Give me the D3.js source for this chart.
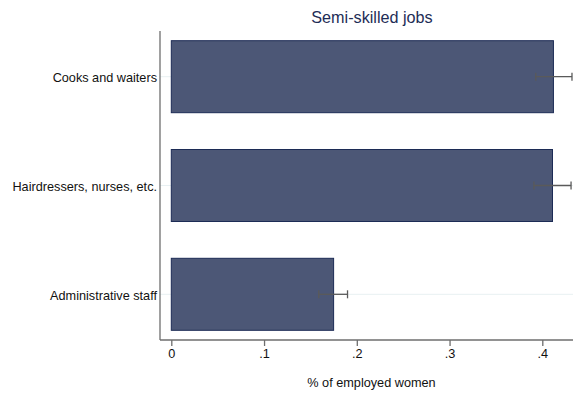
<!DOCTYPE html>
<html>
<head>
<meta charset="utf-8">
<script src="https://cdn.jsdelivr.net/npm/d3@7"></script>
<style>
  html, body { margin: 0; padding: 0; background: #fff; }
  svg { display: block; font-family: Arial, "Liberation Sans", sans-serif; }
</style>
</head>
<body>
<svg id="chart" width="573" height="394"></svg>
<script>
// Share of employed women by semi-skilled occupation, with confidence intervals
const categories = ["Cooks and waiters", "Hairdressers, nurses, etc.", "Administrative staff"];
const shares = [0.412, 0.411, 0.175];
const ciLow = [0.393, 0.391, 0.159];
const ciHigh = [0.432, 0.431, 0.190];
const xTicks = [0, 0.1, 0.2, 0.3, 0.4];
const xTickLabels = ["0", ".1", ".2", ".3", ".4"];

const W = 573, H = 394;
const plot = { left: 160, right: 573, top: 31, bottom: 340 };
const font = "Arial, 'Liberation Sans', sans-serif";
const labelSize = 12.7;

const svg = d3.select("#chart");

const x = d3.scaleLinear().domain([0, 0.4]).range([171.3, 542.3]);
const y = d3.scalePoint().domain(categories).range([plot.top, plot.bottom]).padding(0.42);
const barH = 72;

svg.append("defs").append("clipPath").attr("id", "plotclip")
  .append("rect").attr("x", plot.left).attr("y", 0).attr("width", W - plot.left).attr("height", H);

// faint horizontal gridlines at category positions
svg.append("g").selectAll("line").data(categories).join("line")
  .attr("x1", plot.left).attr("x2", plot.right)
  .attr("y1", d => y(d)).attr("y2", d => y(d))
  .attr("stroke", "#e8f0f2").attr("stroke-width", 1);

// bars
svg.append("g").attr("clip-path", "url(#plotclip)")
  .selectAll("rect").data(categories).join("rect")
  .attr("x", x(0))
  .attr("y", d => y(d) - barH / 2)
  .attr("width", (d, i) => x(shares[i]) - x(0))
  .attr("height", barH)
  .attr("fill", "#4c5776")
  .attr("stroke", "#1c2b55")
  .attr("stroke-width", 1);

// confidence interval whiskers
const ci = svg.append("g").attr("clip-path", "url(#plotclip)")
  .attr("stroke", "#5a5a5a").attr("stroke-width", 1.3);
categories.forEach((c, i) => {
  const cy = y(c);
  ci.append("line").attr("x1", x(ciLow[i])).attr("x2", x(ciHigh[i])).attr("y1", cy).attr("y2", cy);
  ci.append("line").attr("x1", x(ciLow[i])).attr("x2", x(ciLow[i])).attr("y1", cy - 4).attr("y2", cy + 4);
  ci.append("line").attr("x1", x(ciHigh[i])).attr("x2", x(ciHigh[i])).attr("y1", cy - 4).attr("y2", cy + 4);
});

// axes
const axisColor = "#6e6e6e";
svg.append("line").attr("x1", plot.left).attr("x2", plot.left)
  .attr("y1", plot.top).attr("y2", plot.bottom)
  .attr("stroke", axisColor).attr("stroke-width", 1.3);
svg.append("line").attr("x1", plot.left).attr("x2", plot.right)
  .attr("y1", plot.bottom).attr("y2", plot.bottom)
  .attr("stroke", axisColor).attr("stroke-width", 1.3);

const xAxis = svg.append("g").attr("transform", `translate(0,${plot.bottom})`)
  .call(d3.axisBottom(x).tickValues(xTicks).tickFormat((d, i) => xTickLabels[i])
    .tickSize(6).tickPadding(3));
xAxis.select(".domain").remove();
xAxis.selectAll(".tick line").attr("stroke", axisColor).attr("stroke-width", 1.3);
xAxis.selectAll(".tick text").attr("font-size", labelSize).attr("fill", "#111")
  .attr("font-family", font);

const yAxis = svg.append("g").attr("transform", `translate(${plot.left},0)`)
  .call(d3.axisLeft(y).tickSize(0).tickPadding(3));
yAxis.select(".domain").remove();
yAxis.selectAll(".tick text").attr("font-size", labelSize).attr("fill", "#111")
  .attr("font-family", font).attr("dy", "0.38em");

// titles
svg.append("text").attr("x", 372).attr("y", 23.3).attr("text-anchor", "middle")
  .attr("font-size", 16.2).attr("fill", "#1e2d56").attr("font-family", font)
  .text("Semi-skilled jobs");
svg.append("text").attr("x", 371.5).attr("y", 386.7).attr("text-anchor", "middle")
  .attr("font-size", labelSize).attr("fill", "#111").attr("font-family", font)
  .text("% of employed women");
</script>
</body>
</html>
